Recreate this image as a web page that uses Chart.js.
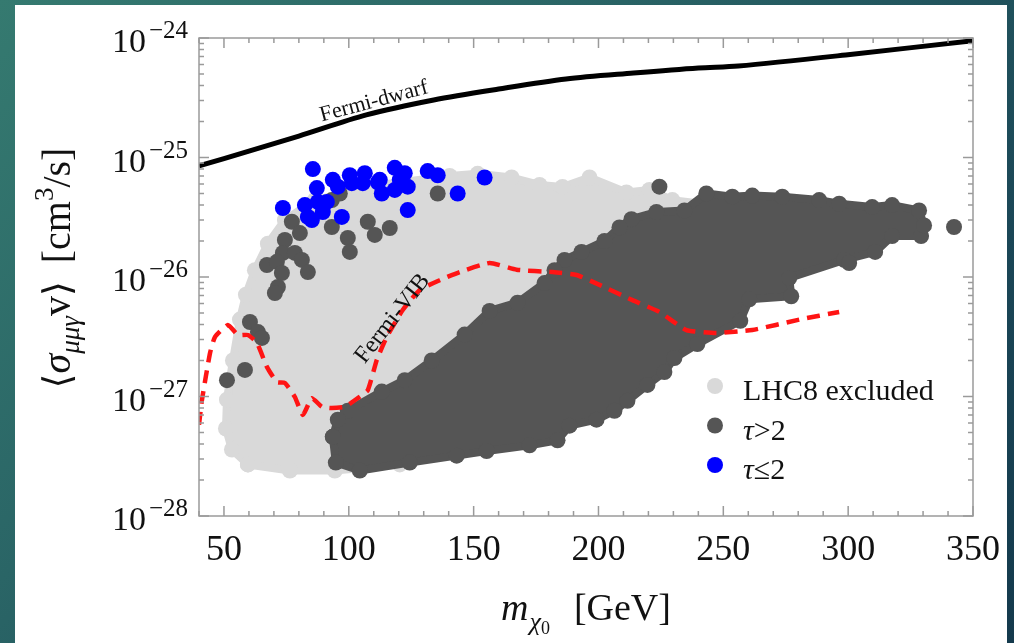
<!DOCTYPE html>
<html>
<head>
<meta charset="utf-8">
<script src="https://cdn.jsdelivr.net/npm/chart.js@4.4.0/dist/chart.umd.min.js"></script>
<style>
  html, body { margin: 0; padding: 0; width: 1014px; height: 643px; overflow: hidden; }
  body { background: linear-gradient(135deg, #357a70 0%, #2a6566 35%, #1b4757 75%, #143a4d 100%); }
  #panel { position: absolute; left: 15px; top: 5px; width: 992px; height: 638px; background: #fff; }
  canvas { display: block; }
</style>
</head>
<body>
<div id="panel"><canvas id="chart" width="992" height="638"></canvas></div>
<script>
// axis ticks
const xTickValues = [50, 100, 150, 200, 250, 300, 350];
const xTickLabels = ['50', '100', '150', '200', '250', '300', '350'];
const yTickValues = [1e-28, 1e-27, 1e-26, 1e-25, 1e-24];
const yTickExponents = ['\u221228', '\u221227', '\u221226', '\u221225', '\u221224'];

// Fermi-dwarf limit (black)
const fermiDwarfMass  = [40, 60, 80, 107, 134, 160, 187, 214, 240, 256, 299, 350];
const fermiDwarfSigma = [8.5e-26, 1.13e-25, 1.51e-25, 2.27e-25, 3.03e-25, 3.74e-25, 4.54e-25, 5.09e-25, 5.61e-25, 5.83e-25, 7.21e-25, 9.5e-25];

// Fermi-VIB limit (red dashed)
const fermiVibMass  = [40, 41.2, 44.4, 46.4, 51.6, 55.6, 59.6, 63.2, 67.2, 71.2, 74.4, 78.4, 81.6, 85.2, 89.2, 93.2, 98.4, 103.6, 107.6, 111.2, 115.2, 121.6, 128.4, 136.4, 144.4, 156.4, 167.2, 181.6, 191.2, 200.4, 213.6, 224.4, 235.2, 247.2, 261.6, 280.4, 296.4];
const fermiVibSigma = [5.8e-28, 9.4e-28, 2.3e-27, 3.15e-27, 3.97e-27, 3.27e-27, 3.27e-27, 2.81e-27, 1.77e-27, 1.32e-27, 1.3e-27, 9.9e-28, 7.0e-28, 9.7e-28, 8.2e-28, 8.0e-28, 8.2e-28, 9.7e-28, 1.13e-27, 2.02e-27, 3.15e-27, 5.3e-27, 7.8e-27, 9.4e-27, 1.1e-26, 1.31e-26, 1.15e-26, 1.1e-26, 1.04e-26, 8.6e-27, 6.4e-27, 5.1e-27, 3.6e-27, 3.4e-27, 3.6e-27, 4.4e-27, 5.1e-27];

// LHC8 excluded points, outline of the dense cloud
const lhcMass  = [59.6, 53.2, 50.8, 51.2, 53.6, 56.4, 58.8, 62.4, 67.6, 74.4, 86.4, 112.4, 140.4, 151.6, 165.2, 176.4, 185.6, 196.4, 211.2, 220.4, 229.6, 245.6, 252.4, 240.4, 184.4, 120.4, 94.4, 76.4];
const lhcSigma = [2.7e-28, 3.6e-28, 5.4e-28, 9.4e-28, 2.0e-27, 4.4e-27, 7.1e-27, 1.14e-26, 1.9e-26, 3.0e-26, 4.4e-26, 5.9e-26, 7.0e-26, 7.3e-26, 6.8e-26, 5.9e-26, 5.67e-26, 6.8e-26, 5.1e-26, 5.35e-26, 4.4e-26, 4.0e-26, 2.5e-26, 4.4e-27, 6.4e-28, 2.7e-28, 2.4e-28, 2.4e-28];

// tau > 2, outline of the dense cloud
const tauHighBlobMass  = [93.6, 94.8, 104.4, 124.4, 143.2, 155.2, 172.4, 183.6, 188.4, 199.2, 206.4, 211.6, 219.6, 226.4, 230.4, 239.6, 256.8, 260.4, 277.2, 276.4, 298.4, 310.8, 317.6, 329.2, 330.4, 328.4, 317.6, 309.6, 296.4, 288.4, 273.6, 261.6, 253.6, 243.2, 234.4, 223.2, 213.2, 208.4, 202.4, 193.2, 186.4, 182.4, 178.4, 167.6, 156.4, 146.4, 133.2, 122.4, 113.2, 99.6, 95.6];
const tauHighBlobSigma = [4.6e-28, 2.8e-28, 2.4e-28, 2.8e-28, 3.2e-28, 3.5e-28, 3.9e-28, 4.3e-28, 5.7e-28, 6.4e-28, 7.6e-28, 9.2e-28, 1.25e-27, 1.6e-27, 2.1e-27, 2.75e-27, 4.3e-27, 6.5e-27, 6.9e-27, 9.8e-27, 1.39e-26, 1.62e-26, 2.2e-26, 2.2e-26, 2.7e-26, 3.6e-26, 4.0e-26, 3.85e-26, 4.1e-26, 4.4e-26, 4.7e-26, 4.8e-26, 4.7e-26, 5.0e-26, 3.6e-26, 3.5e-26, 3.05e-26, 2.6e-26, 2.0e-26, 1.62e-26, 1.39e-26, 1.14e-26, 8.9e-27, 6.1e-27, 5.2e-27, 3.3e-27, 2.0e-27, 1.37e-27, 1.1e-27, 7.6e-28, 6.4e-28];

// tau > 2, scattered points
const tauHighMass  = [135.6, 224.4, 93.2, 77.2, 80.4, 74.4, 93.2, 99.6, 100.4, 107.6, 110.4, 116.4, 73.6, 78.4, 81.2, 67.2, 71.2, 83.6, 73.2, 71.6, 70.4, 60.4, 63.6, 65.2, 58.4, 51.2, 96.4, 342.4, 300.4];
const tauHighSigma = [5.0e-26, 5.7e-26, 4.4e-26, 2.9e-26, 2.33e-26, 2.04e-26, 2.62e-26, 2.12e-26, 1.62e-26, 2.9e-26, 2.25e-26, 2.57e-26, 1.59e-26, 1.59e-26, 1.39e-26, 1.26e-26, 1.34e-26, 1.1e-26, 1.08e-26, 8.25e-27, 7.35e-27, 4.2e-27, 3.46e-27, 3.09e-27, 1.67e-27, 1.37e-27, 5.0e-26, 2.62e-26, 1.31e-26];

// tau <= 2
const tauLowMass  = [85.6, 93.6, 100.4, 106.4, 118.4, 122.4, 131.6, 135.6, 154.4, 87.2, 95.6, 101.2, 105.6, 111.6, 113.2, 118.4, 123.6, 143.6, 82.4, 87.6, 91.2, 83.6, 89.6, 97.2, 123.6, 73.6, 85.2, 112.4, 120.4];
const tauLowSigma = [8.0e-26, 6.5e-26, 7.1e-26, 7.4e-26, 8.2e-26, 7.4e-26, 7.7e-26, 7.1e-26, 6.8e-26, 5.55e-26, 5.7e-26, 6.1e-26, 6.1e-26, 6.2e-26, 5.0e-26, 5.35e-26, 5.7e-26, 5.0e-26, 4.0e-26, 4.25e-26, 4.25e-26, 3.18e-26, 3.5e-26, 3.18e-26, 3.63e-26, 3.78e-26, 3.0e-26, 6.5e-26, 6.5e-26];


const LIGHT = '#d9d9d9', DARK = '#555555', BLUE = '#0000ff';
const serif = '"Liberation Serif", "Times New Roman", "DejaVu Serif", serif';

const pts = (xs, ys) => xs.map((x, i) => ({ x: x, y: ys[i] }));
const closed = (xs, ys) => { const p = pts(xs, ys); p.push({ x: xs[0], y: ys[0] }); return p; };

function drawRich(ctx, parts, x, y) {
  let cx = x;
  parts.forEach(p => {
    ctx.font = (p.italic ? 'italic ' : '') + p.size + 'px ' + serif;
    cx += p.gap || 0;
    ctx.fillText(p.t, cx, y + (p.dy || 0));
    cx += ctx.measureText(p.t).width;
  });
  return cx - x;
}
function richWidth(ctx, parts) {
  let w = 0;
  parts.forEach(p => {
    ctx.font = (p.italic ? 'italic ' : '') + p.size + 'px ' + serif;
    w += (p.gap || 0) + ctx.measureText(p.t).width;
  });
  return w;
}

const xTitleParts = [
  { t: 'm', size: 38, italic: true },
  { t: '\u03c7', size: 26, italic: true, dy: 10, gap: 1 },
  { t: '0', size: 18, dy: 14 },
  { t: '[GeV]', size: 38, gap: 24 }
];
const yTitleParts = [
  { t: '\u27e8', size: 38 },
  { t: '\u03c3', size: 40, italic: true },
  { t: '\u03bc\u03bc\u03b3', size: 27, italic: true, dy: 9 },
  { t: 'v', size: 40 },
  { t: '\u27e9', size: 38 },
  { t: '[cm', size: 40, gap: 18 },
  { t: '3', size: 27, dy: -17 },
  { t: '/s]', size: 40 }
];

const decorations = {
  id: 'decorations',
  afterDatasetsDraw(chart) {
    const ctx = chart.ctx, ca = chart.chartArea;
    const xs = chart.scales.x, ys = chart.scales.y;
    ctx.save();

    // frame
    ctx.strokeStyle = '#9a9a9a';
    ctx.lineWidth = 1.5;
    ctx.strokeRect(ca.left, ca.top, ca.right - ca.left, ca.bottom - ca.top);

    // x ticks (major + minor every 10), bottom and top, pointing inward
    ctx.beginPath();
    for (let v = xs.min; v <= xs.max + 0.001; v += 10) {
      const px = xs.getPixelForValue(v);
      const len = xTickValues.includes(v) ? 10 : 5;
      ctx.moveTo(px, ca.bottom); ctx.lineTo(px, ca.bottom - len);
      ctx.moveTo(px, ca.top); ctx.lineTo(px, ca.top + len);
    }
    // y ticks (log decades + 2..9 minors), left and right
    yTickValues.forEach((dec, i) => {
      const py = ys.getPixelForValue(dec);
      ctx.moveTo(ca.left, py); ctx.lineTo(ca.left + 10, py);
      ctx.moveTo(ca.right, py); ctx.lineTo(ca.right - 10, py);
      if (i < yTickValues.length - 1) {
        for (let m = 2; m <= 9; m++) {
          const my = ys.getPixelForValue(m * dec);
          ctx.moveTo(ca.left, my); ctx.lineTo(ca.left + 5, my);
          ctx.moveTo(ca.right, my); ctx.lineTo(ca.right - 5, my);
        }
      }
    });
    ctx.stroke();

    ctx.fillStyle = '#111';
    ctx.textBaseline = 'alphabetic';

    // x tick labels
    ctx.textAlign = 'center';
    ctx.font = '36px ' + serif;
    xTickValues.forEach((v, i) => {
      ctx.fillText(xTickLabels[i], xs.getPixelForValue(v), ca.bottom + 44);
    });

    // y tick labels 10^n
    ctx.textAlign = 'left';
    yTickValues.forEach((v, i) => {
      const py = ys.getPixelForValue(v);
      const parts = [{ t: '10', size: 34 }, { t: yTickExponents[i], size: 25, dy: -14, gap: 3 }];
      const w = richWidth(ctx, parts);
      drawRich(ctx, parts, ca.left - 11 - w, py + 14);
    });

    // axis titles
    const xw = richWidth(ctx, xTitleParts);
    drawRich(ctx, xTitleParts, (ca.left + ca.right) / 2 - xw / 2, ca.bottom + 104);

    ctx.save();
    ctx.translate(ca.left - 129, (ca.top + ca.bottom) / 2 - 9);
    ctx.rotate(-Math.PI / 2);
    const yw = richWidth(ctx, yTitleParts);
    drawRich(ctx, yTitleParts, -yw / 2, 0);
    ctx.restore();

    // curve labels
    ctx.font = '22px ' + serif;
    ctx.save();
    ctx.translate(xs.getPixelForValue(89.2), ys.getPixelForValue(2.0e-25));
    ctx.rotate(-15 * Math.PI / 180);
    ctx.fillText('Fermi-dwarf', 0, 0);
    ctx.restore();
    ctx.font = '24px ' + serif;
    ctx.save();
    ctx.translate(xs.getPixelForValue(106.4), ys.getPixelForValue(1.85e-27));
    ctx.rotate(-52 * Math.PI / 180);
    ctx.fillText('Fermi-VIB', 0, 0);
    ctx.restore();

    // legend inside the frame
    const items = chart.data.datasets.filter(d => d.legendRank).sort((a, b) => a.legendRank - b.legendRank);
    items.forEach((d, i) => {
      const base = ca.bottom - 116 + i * 39.5;
      ctx.fillStyle = d.backgroundColor;
      ctx.beginPath();
      ctx.arc(ca.right - 258, base - 14, 8, 0, Math.PI * 2);
      ctx.fill();
      ctx.fillStyle = '#111';
      const parts = d.label.split(/(\u03c4)/).filter(s => s).map(s => ({ t: s, size: 30, italic: s === '\u03c4' }));
      drawRich(ctx, parts, ca.right - 230, base);
    });

    ctx.restore();
  }
};

new Chart(document.getElementById('chart'), {
  type: 'scatter',
  data: {
    datasets: [
      { label: 'Fermi-dwarf', data: pts(fermiDwarfMass, fermiDwarfSigma), showLine: true, borderColor: '#000', borderWidth: 5, pointRadius: 0, tension: 0.3, order: 1 },
      { label: 'Fermi-VIB', data: pts(fermiVibMass, fermiVibSigma), showLine: true, borderColor: '#ff1414', borderWidth: 4.5, borderDash: [13, 8], pointRadius: 0, tension: 0.15, order: 2 },
      { label: '\u03c4\u22642', legendRank: 3, data: pts(tauLowMass, tauLowSigma), backgroundColor: BLUE, pointRadius: 8, pointBorderWidth: 0, order: 3 },
      { label: '\u03c4>2', legendRank: 2, data: pts(tauHighMass, tauHighSigma), backgroundColor: DARK, pointRadius: 8, pointBorderWidth: 0, order: 4 },
      { label: '\u03c4>2 cloud', data: closed(tauHighBlobMass, tauHighBlobSigma), showLine: true, fill: 'shape', backgroundColor: DARK, borderColor: DARK, borderWidth: 8, borderJoinStyle: 'round', pointRadius: 8, pointBorderWidth: 0, order: 5 },
      { label: 'LHC8 excluded', legendRank: 1, data: closed(lhcMass, lhcSigma), showLine: true, fill: 'shape', backgroundColor: LIGHT, borderColor: LIGHT, borderWidth: 8, borderJoinStyle: 'round', pointRadius: 8, pointBorderWidth: 0, order: 6 }
    ]
  },
  options: {
    responsive: false,
    animation: false,
    layout: { padding: { left: 184, top: 33, right: 34, bottom: 127 } },
    scales: {
      x: { type: 'linear', min: 40, max: 350, display: false },
      y: { type: 'logarithmic', min: 1e-28, max: 1e-24, display: false }
    },
    plugins: { legend: { display: false }, tooltip: { enabled: false } }
  },
  plugins: [decorations]
});
</script>
</body>
</html>
